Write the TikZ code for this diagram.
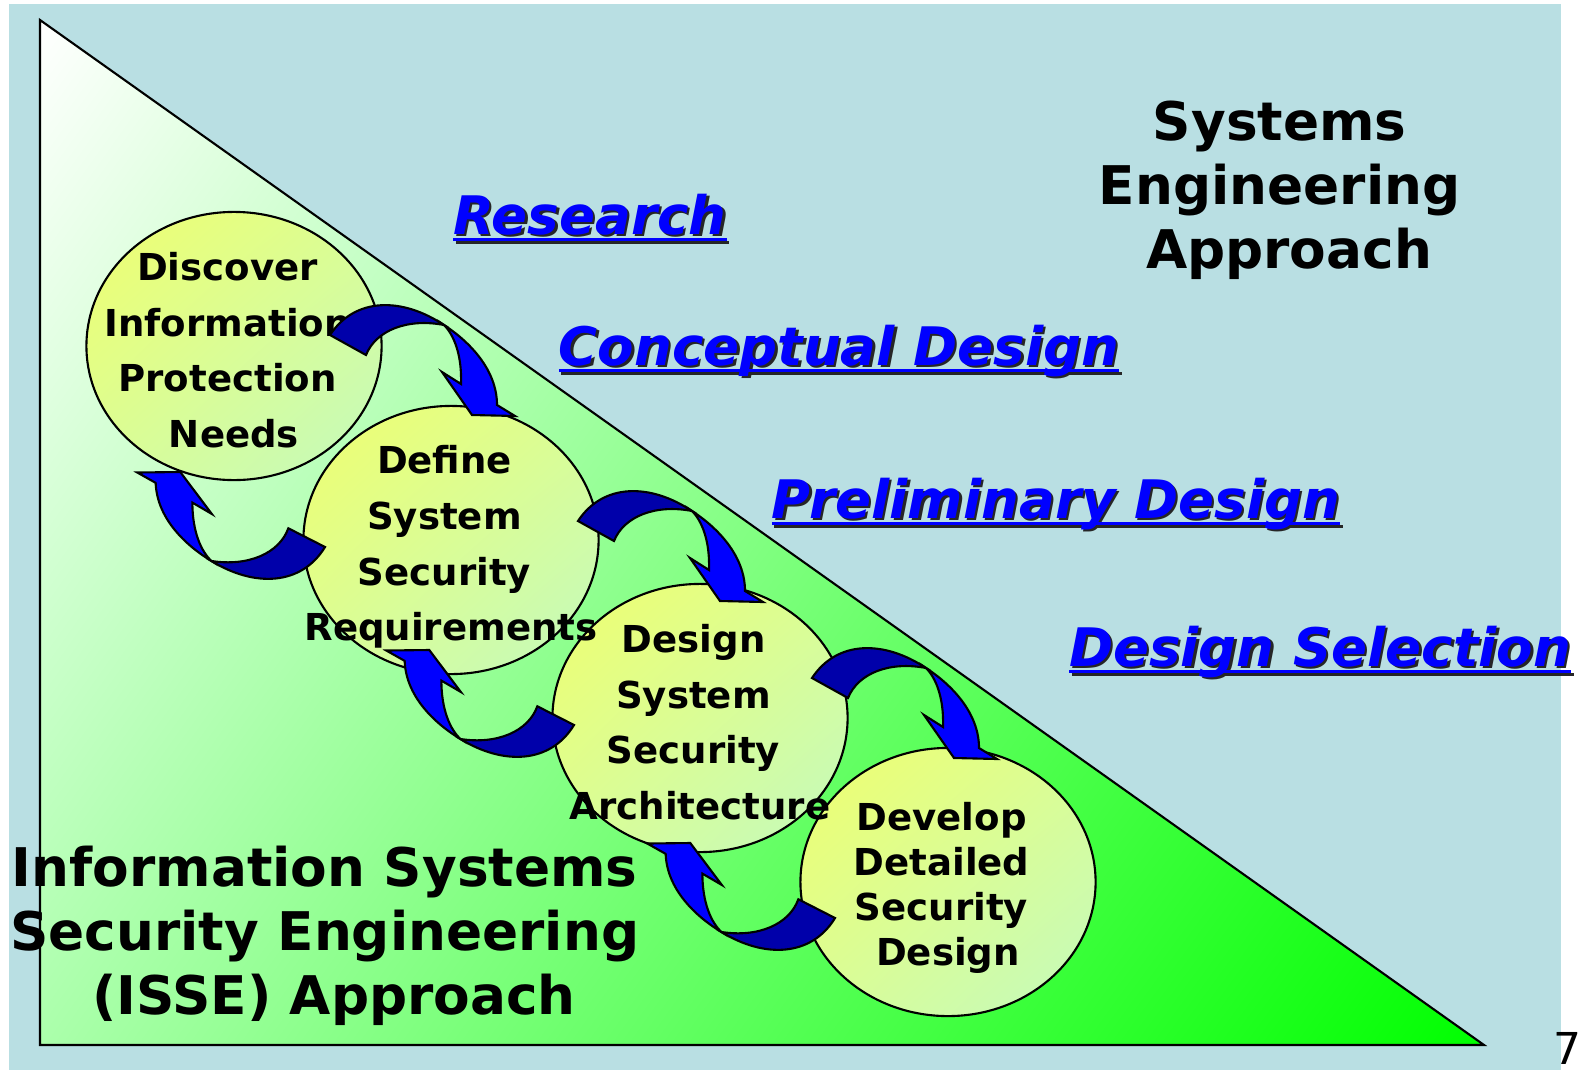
\documentclass[tikz,border=0pt]{standalone}
\usepackage{fontspec}
\setmainfont{DejaVu Sans}
\definecolor{isse_bg}{RGB}{185, 223, 227}
\definecolor{isse_blue}{RGB}{0, 0, 255}
\definecolor{isse_navy}{RGB}{0, 0, 170}
\definecolor{isse_green}{RGB}{0, 255, 0}
\definecolor{isse_gmid}{RGB}{89, 255, 89}
\definecolor{isse_glight}{RGB}{171, 255, 171}
\definecolor{isse_yellow}{RGB}{240, 255, 110}
\definecolor{isse_ymid}{RGB}{218, 253, 150}
\definecolor{isse_mint}{RGB}{195, 250, 190}
\usetikzlibrary{shapes.geometric, shadings}
\newcommand{\tsp}{\kern0.348em\hbox{}}
\newcommand{\phaseul}[1]{\setbox0\hbox{#1}\rlap{\rule[-2pt]{\wd0}{0.85pt}}\box0}
\newcommand{\bendarrow}{%
  \filldraw[bendback] (0,0) .. controls (25,-38) and (72,-38) .. (114,-10)
    .. controls (78,-17) and (46,-5) .. (36,20) -- cycle;
  \filldraw[bendfront] (114,-10) .. controls (140,7) and (167,35) .. (167,70)
    -- (185,81) -- (142,80) -- (112,37) -- (131,49)
    .. controls (132,20) and (124,0) .. (114,-10) -- cycle;}

\begin{document}
\begin{tikzpicture}[
        x=0.01cm, y=-0.01cm,
        tri/.style={draw=black, line width=0.6pt,
                    shading=bilinear interpolation,
                    upper left=white, upper right=isse_gmid,
                    lower left=isse_glight, lower right=isse_green},
        bubble/.style={ellipse, draw=black, line width=0.6pt,
                    minimum width=2.95cm, minimum height=2.68cm, inner sep=0pt,
                    shading=bilinear interpolation,
                    upper left=isse_yellow, upper right=isse_ymid,
                    lower left=isse_ymid, lower right=isse_mint},
        bubbletext/.style={font=\fontsize{10.55}{15.8}\selectfont\bfseries,
                    align=center, inner sep=0pt, yshift=-0.04cm},
        phase/.style={font=\fontsize{15.1}{17}\selectfont\bfseries\itshape,
                    text=isse_blue, anchor=base, inner sep=0pt},
        phaseshadow/.style={phase, text=black!85, xshift=0.025cm, yshift=-0.025cm},
        heading/.style={font=\fontsize{15.15}{18.2}\selectfont\bfseries,
                    align=center, inner sep=0pt, anchor=north},
        bendback/.style={fill=isse_navy, draw=black, line width=0.6pt},
        bendfront/.style={fill=isse_blue, draw=black, line width=0.6pt},
      ]
        \useasboundingbox (0,0) rectangle (1583,1070);
        \fill[isse_bg] (9,4) rectangle (1561,1070);
        \shadedraw[tri] (40,20) -- (40,1045) -- (1484,1045) -- cycle;

        \node[bubble] (discover) at (234,346) {};
        \node[bubble] (define)   at (451,540) {};
        \node[bubble] (design)   at (700,718) {};
        \node[bubble] (develop)  at (948,882) {};

        \node[bubbletext] (discover-t) at (discover)
          {Discover\tsp\\Information\tsp\\Protection\tsp\\Needs};
        \node[bubbletext, yshift=-0.03cm] (define-t) at (define)
          {Define\tsp\\System\tsp\\Security\tsp\\Requirements};
        \node[bubbletext] (design-t) at (design)
          {Design\tsp\\System\tsp\\Security\tsp\\Architecture};
        \node[bubbletext, font=\fontsize{10.55}{12.8}\selectfont\bfseries,
          yshift=-0.02cm] (develop-t) at (develop)
          {Develop\tsp\\Detailed\tsp\\Security\tsp\\Design};

        \coordinate (fwd1) at (330,335);
        \coordinate (fwd2) at (578,521);
        \coordinate (fwd3) at (812,678);
        \coordinate (back1) at (325,547);
        \coordinate (back2) at (574,725);
        \coordinate (back3) at (835,918);
        \foreach \c in {fwd1, fwd2, fwd3}
          \begin{scope}[shift={(\c)}] \bendarrow \end{scope};
        \foreach \c in {back1, back2, back3}
          \begin{scope}[shift={(\c)}, rotate=182] \bendarrow \end{scope};

        \node[phaseshadow] (research-sh) at (590,234) {\phaseul{Research}};
        \node[phase]       (research)    at (590,234) {\phaseul{Research}};
        \node[phaseshadow] (concept-sh)  at (839,365) {\phaseul{Conceptual Design}};
        \node[phase]       (concept)     at (839,365) {\phaseul{Conceptual Design}};
        \node[phaseshadow] (prelim-sh)   at (1056,518) {\phaseul{Preliminary Design}};
        \node[phase]       (prelim)      at (1056,518) {\phaseul{Preliminary Design}};
        \node[phaseshadow] (select-sh)   at (1320,666) {\phaseul{Design Selection}};
        \node[phase]       (select)      at (1320,666) {\phaseul{Design Selection}};

        \node[heading] (sysapp) at (1289,100)
          {Systems\tsp\\Engineering\tsp\\Approach};
        \node[heading] (isse) at (334,845)
          {Information Systems\tsp\\Security Engineering\tsp\\(ISSE) Approach};
        \node[font=\fontsize{12.5}{13}\selectfont, anchor=north west, inner sep=0pt]
          (slideno) at (1553,1032) {7};
      \end{tikzpicture}
\end{document}
